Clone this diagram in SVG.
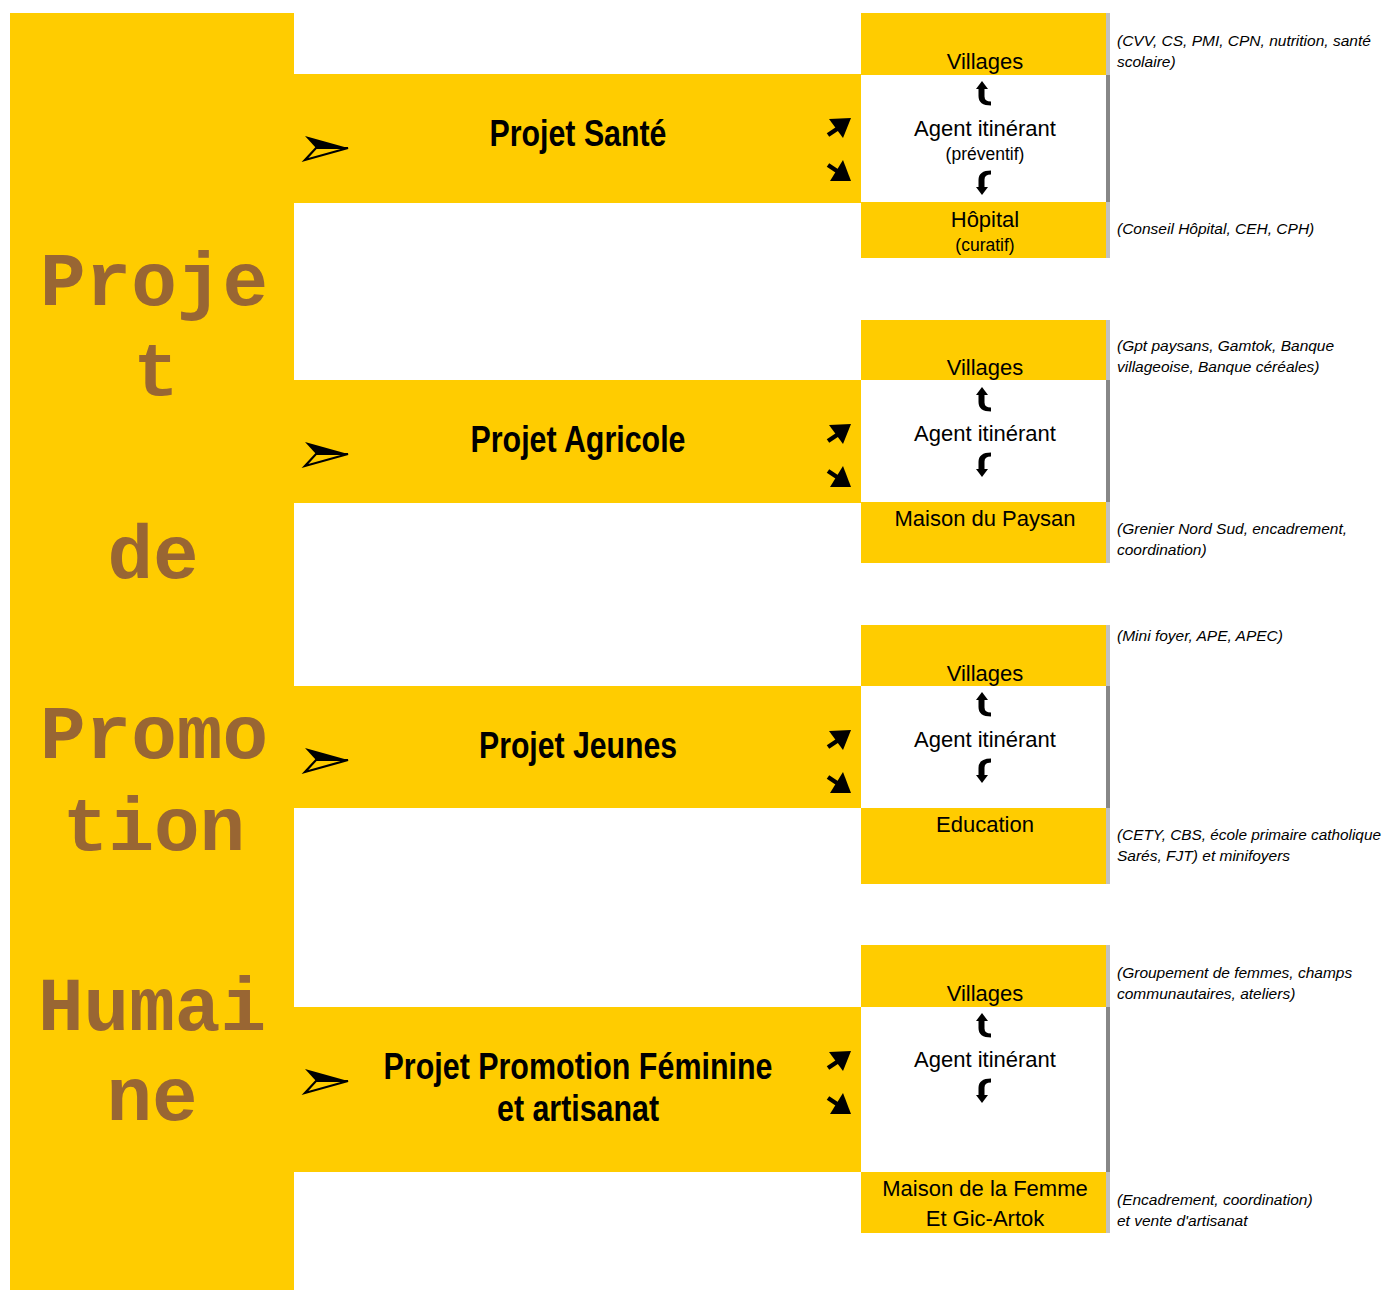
<svg xmlns="http://www.w3.org/2000/svg" width="1385" height="1290" viewBox="0 0 1385 1290">
<style>
.y{fill:#FFCC00}
.big{font-family:"Liberation Mono","Courier New",monospace;font-weight:bold;font-size:76px;fill:#996633;text-anchor:middle}
.ttl{font-family:"Liberation Sans Narrow","Arial Narrow","Liberation Sans",sans-serif;font-weight:bold;font-size:37px;fill:#000;text-anchor:middle}
.bx{font-family:"Liberation Sans",Arial,sans-serif;font-size:22px;fill:#000;text-anchor:middle}
.sm{font-family:"Liberation Sans",Arial,sans-serif;font-size:17.5px;fill:#000;text-anchor:middle}
.nt{font-family:"Liberation Sans",Arial,sans-serif;font-style:italic;font-size:15.5px;fill:#000}
.lg{fill:#C0C0C0}
.dg{fill:#878787}
</style>
<defs>
<g id="plane">
<polygon points="-11,-12 32,0 0,0" fill="#000"/>
<polygon points="0,0 32,0 -11,12" fill="none" stroke="#000" stroke-width="2.2" stroke-linejoin="miter"/>
</g>
<g id="ne">
<polygon points="829,-29 851,-30 843,-10" fill="#000"/>
<line x1="828" y1="-13" x2="840" y2="-21" stroke="#000" stroke-width="4.5"/>
</g>
<g id="se">
<polygon points="843,12 851,33 830,33" fill="#000"/>
<line x1="828" y1="17" x2="840" y2="25" stroke="#000" stroke-width="4.5"/>
</g>
<path id="curl" d="M0,0 L6,8 L2.5,8 L2.5,15.5 Q2.5,20.5 9,20.5 L9,24.5 Q-3.5,24.5 -3.5,15 L-3.5,8 L-6,8 Z" fill="#000"/>
</defs>
<rect width="1385" height="1290" fill="#fff"/>

<g id="promotion-humaine">
<rect class="y" x="10" y="13" width="284" height="1277"/>
<text class="big" x="154" y="305">Proje</text>
<text class="big" x="156" y="395">t</text>
<text class="big" x="153" y="578">de</text>
<text class="big" x="154" y="758">Promo</text>
<text class="big" x="154" y="850">tion</text>
<text class="big" x="152" y="1030">Humai</text>
<text class="big" x="152" y="1120">ne</text>
</g>

<!-- Row 1 -->
<g id="projet-sante">
<rect class="y" x="294" y="74" width="567" height="129"/>
<text class="ttl" x="578" y="146" textLength="177" lengthAdjust="spacingAndGlyphs">Projet Santé</text>
</g>
<g id="villages-1">
<rect class="y" x="861" y="13" width="245" height="62"/>
<rect class="lg" x="1106" y="13" width="4" height="62"/>
<text class="bx" x="985" y="69">Villages</text>
</g>
<g id="agent-1">
<rect fill="#fff" x="861" y="75" width="245" height="127"/>
<rect class="dg" x="1106" y="75" width="4" height="127"/>
<text class="bx" x="985" y="136">Agent itinérant</text>
<text class="sm" x="985" y="160">(préventif)</text>
</g>
<g id="hopital">
<rect class="y" x="861" y="202" width="245" height="56"/>
<rect class="lg" x="1106" y="202" width="4" height="56"/>
<text class="bx" x="985" y="227">Hôpital</text>
<text class="sm" x="985" y="251">(curatif)</text>
</g>
<g id="notes-1">
<text class="nt" x="1117" y="46">(CVV, CS, PMI, CPN, nutrition, santé</text>
<text class="nt" x="1117" y="67">scolaire)</text>
<text class="nt" x="1117" y="234">(Conseil Hôpital, CEH, CPH)</text>
</g>

<!-- Row 2 -->
<g id="projet-agricole">
<rect class="y" x="294" y="380" width="567" height="123"/>
<text class="ttl" x="578" y="452" textLength="215" lengthAdjust="spacingAndGlyphs">Projet Agricole</text>
</g>
<g id="villages-2">
<rect class="y" x="861" y="320" width="245" height="60"/>
<rect class="lg" x="1106" y="320" width="4" height="60"/>
<text class="bx" x="985" y="375">Villages</text>
</g>
<g id="agent-2">
<rect fill="#fff" x="861" y="380" width="245" height="122"/>
<rect class="dg" x="1106" y="380" width="4" height="122"/>
<text class="bx" x="985" y="441">Agent itinérant</text>
</g>
<g id="maison-paysan">
<rect class="y" x="861" y="502" width="245" height="61"/>
<rect class="lg" x="1106" y="502" width="4" height="61"/>
<text class="bx" x="985" y="526">Maison du Paysan</text>
</g>
<g id="notes-2">
<text class="nt" x="1117" y="351">(Gpt paysans, Gamtok, Banque</text>
<text class="nt" x="1117" y="372">villageoise, Banque céréales)</text>
<text class="nt" x="1117" y="534">(Grenier Nord Sud, encadrement,</text>
<text class="nt" x="1117" y="555">coordination)</text>
</g>

<!-- Row 3 -->
<g id="projet-jeunes">
<rect class="y" x="294" y="686" width="567" height="122"/>
<text class="ttl" x="578" y="758" textLength="198" lengthAdjust="spacingAndGlyphs">Projet Jeunes</text>
</g>
<g id="villages-3">
<rect class="y" x="861" y="625" width="245" height="61"/>
<rect class="lg" x="1106" y="625" width="4" height="61"/>
<text class="bx" x="985" y="681">Villages</text>
</g>
<g id="agent-3">
<rect fill="#fff" x="861" y="686" width="245" height="122"/>
<rect class="dg" x="1106" y="686" width="4" height="122"/>
<text class="bx" x="985" y="747">Agent itinérant</text>
</g>
<g id="education">
<rect class="y" x="861" y="808" width="245" height="76"/>
<rect class="lg" x="1106" y="808" width="4" height="76"/>
<text class="bx" x="985" y="832">Education</text>
</g>
<g id="notes-3">
<text class="nt" x="1117" y="641">(Mini foyer, APE, APEC)</text>
<text class="nt" x="1117" y="840" textLength="264" lengthAdjust="spacingAndGlyphs">(CETY, CBS, école primaire catholique</text>
<text class="nt" x="1117" y="861">Sarés, FJT) et minifoyers</text>
</g>

<!-- Row 4 -->
<g id="projet-feminine">
<rect class="y" x="294" y="1007" width="567" height="165"/>
<text class="ttl" x="578" y="1079" textLength="389" lengthAdjust="spacingAndGlyphs">Projet Promotion Féminine</text>
<text class="ttl" x="578" y="1121" textLength="162" lengthAdjust="spacingAndGlyphs">et artisanat</text>
</g>
<g id="villages-4">
<rect class="y" x="861" y="945" width="245" height="62"/>
<rect class="lg" x="1106" y="945" width="4" height="62"/>
<text class="bx" x="985" y="1001">Villages</text>
</g>
<g id="agent-4">
<rect fill="#fff" x="861" y="1007" width="245" height="165"/>
<rect class="dg" x="1106" y="1007" width="4" height="165"/>
<text class="bx" x="985" y="1067">Agent itinérant</text>
</g>
<g id="maison-femme">
<rect class="y" x="861" y="1172" width="245" height="61"/>
<rect class="lg" x="1106" y="1172" width="4" height="61"/>
<text class="bx" x="985" y="1196">Maison de la Femme</text>
<text class="bx" x="985" y="1226">Et Gic-Artok</text>
</g>
<g id="notes-4">
<text class="nt" x="1117" y="978">(Groupement de femmes, champs</text>
<text class="nt" x="1117" y="999">communautaires, ateliers)</text>
<text class="nt" x="1117" y="1205">(Encadrement, coordination)</text>
<text class="nt" x="1117" y="1226">et vente d'artisanat</text>
</g>

<g id="connectors">
<use href="#plane" transform="translate(316,148)"/>
<use href="#ne" transform="translate(0,148)"/>
<use href="#se" transform="translate(0,148)"/>
<use href="#curl" transform="translate(982,81)"/>
<use href="#curl" transform="translate(982,195) scale(1,-1)"/>

<use href="#plane" transform="translate(316,454)"/>
<use href="#ne" transform="translate(0,454)"/>
<use href="#se" transform="translate(0,454)"/>
<use href="#curl" transform="translate(982,387)"/>
<use href="#curl" transform="translate(982,477) scale(1,-1)"/>

<use href="#plane" transform="translate(316,760)"/>
<use href="#ne" transform="translate(0,760)"/>
<use href="#se" transform="translate(0,760)"/>
<use href="#curl" transform="translate(982,692)"/>
<use href="#curl" transform="translate(982,783) scale(1,-1)"/>

<use href="#plane" transform="translate(316,1081)"/>
<use href="#ne" transform="translate(0,1081)"/>
<use href="#se" transform="translate(0,1081)"/>
<use href="#curl" transform="translate(982,1013)"/>
<use href="#curl" transform="translate(982,1103) scale(1,-1)"/>
</g>
</svg>
